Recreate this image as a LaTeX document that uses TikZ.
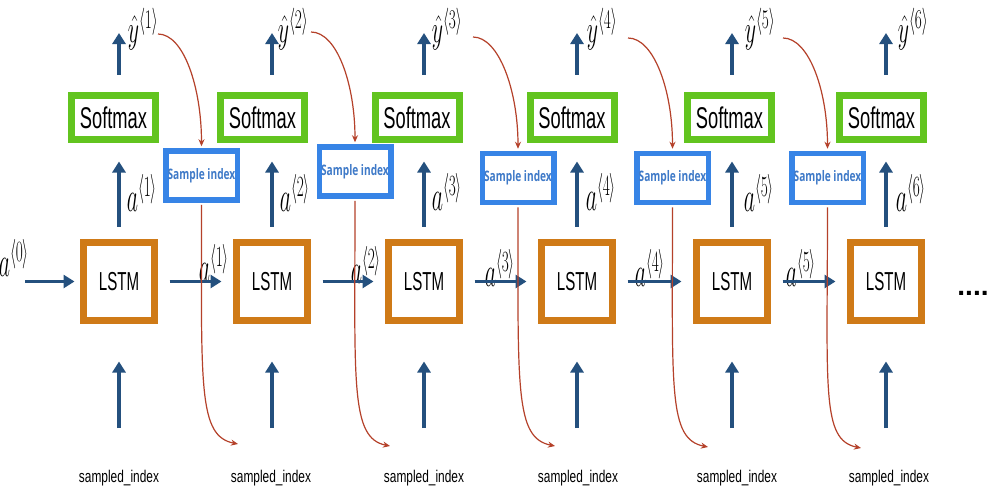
\documentclass[tikz,border=0pt]{standalone}
\usepackage{fix-cm}
\usepackage{fontspec}
\usepackage{graphicx}
\usetikzlibrary{arrows.meta}
\newfontfamily\helv{Liberation Sans}
\newfontfamily\osans{Open Sans}
\definecolor{arrblue}{HTML}{24507E}
\definecolor{softgreen}{HTML}{62C41F}
\definecolor{lstmorange}{HTML}{CF7A17}
\definecolor{sampblue}{HTML}{3784E6}
\definecolor{samptext}{HTML}{3F7AC8}
\definecolor{redline}{HTML}{B5412A}
\newcommand\mylab[2]{\scalebox{0.52}[1]{\fontsize{42}{42}\selectfont$#1^{\langle #2\rangle}$}}
\newcommand\yhlab[1]{\scalebox{0.52}[0.92]{\fontsize{42}{42}\selectfont$\hat{y}^{\langle #1\rangle}$}}
\begin{document}
\begin{tikzpicture}[x=1pt,y=-1pt,
  lstmbox/.style={draw=lstmorange, line width=7pt, minimum width=71pt, minimum height=78pt, inner sep=0pt,
     font=\helv\fontsize{26}{26}\selectfont},
  softbox/.style={draw=softgreen, line width=7pt, minimum width=84pt, minimum height=44pt, inner sep=0pt,
     font=\helv\fontsize{30}{30}\selectfont},
  sampbox/.style={draw=sampblue, line width=5.5pt, minimum width=71.5pt, minimum height=49pt, inner sep=0pt,
     font=\osans\bfseries\fontsize{14.5}{14.5}\selectfont, text=samptext},
  lab/.style={inner sep=0pt},
  inlab/.style={inner sep=0pt, font=\helv\fontsize{17}{17}\selectfont},
  arr/.style={draw=arrblue, line width=3.5pt, -{Triangle[length=11pt,width=13pt]}},
  redc/.style={draw=redline, line width=1.2pt, -{Stealth[length=7pt,width=6pt]}}
]
\useasboundingbox[fill=white] (0,0) rectangle (989,493);

% LSTM boxes
\node[lstmbox] (L1) at (119,281.5) {\scalebox{0.58}[1]{LSTM}};
\node[lstmbox] (L2) at (272,281.5) {\scalebox{0.58}[1]{LSTM}};
\node[lstmbox] (L3) at (424,281.5) {\scalebox{0.58}[1]{LSTM}};
\node[lstmbox] (L4) at (577,281.5) {\scalebox{0.58}[1]{LSTM}};
\node[lstmbox] (L5) at (732,281.5) {\scalebox{0.58}[1]{LSTM}};
\node[lstmbox] (L6) at (886,281.5) {\scalebox{0.58}[1]{LSTM}};

% Softmax boxes
\node[softbox] (S1) at (113.5,117.5) {\scalebox{0.61}[1]{Softmax}};
\node[softbox] (S2) at (262.5,117.5) {\scalebox{0.61}[1]{Softmax}};
\node[softbox] (S3) at (417,117.5) {\scalebox{0.61}[1]{Softmax}};
\node[softbox] (S4) at (572,117.5) {\scalebox{0.61}[1]{Softmax}};
\node[softbox] (S5) at (729.5,117.5) {\scalebox{0.61}[1]{Softmax}};
\node[softbox] (S6) at (881.5,117.5) {\scalebox{0.61}[1]{Softmax}};

% Sample index boxes
\node[sampbox] (I1) at (201.5,175.5) {\scalebox{0.7}[1]{Sample index}};
\node[sampbox] (I2) at (355,171.5) {\scalebox{0.7}[1]{Sample index}};
\node[sampbox] (I3) at (518,178) {\scalebox{0.7}[1]{Sample index}};
\node[sampbox] (I4) at (672.5,178) {\scalebox{0.7}[1]{Sample index}};
\node[sampbox] (I5) at (827.5,178) {\scalebox{0.7}[1]{Sample index}};

% y-hat labels
\node[lab] (Y1) at (143,29) {\yhlab{1}};
\node[lab] (Y2) at (293,29) {\yhlab{2}};
\node[lab] (Y3) at (447,29) {\yhlab{3}};
\node[lab] (Y4) at (602,29) {\yhlab{4}};
\node[lab] (Y5) at (760,29) {\yhlab{5}};
\node[lab] (Y6) at (913,29) {\yhlab{6}};

% vertical a labels
\node[lab] (V1) at (142,193) {\mylab{a}{1}};
\node[lab] (V2) at (295,193) {\mylab{a}{2}};
\node[lab] (V3) at (447,192) {\mylab{a}{3}};
\node[lab] (V4) at (601,192) {\mylab{a}{4}};
\node[lab] (V5) at (759,193) {\mylab{a}{5}};
\node[lab] (V6) at (911,193) {\mylab{a}{6}};

% horizontal a labels
\node[lab] (H0) at (14,258) {\mylab{a}{0}};
\node[lab] (H1) at (214,263) {\mylab{a}{1}};
\node[lab] (H2) at (366,265) {\mylab{a}{2}};
\node[lab] (H3) at (500,268) {\mylab{a}{3}};
\node[lab] (H4) at (650,268) {\mylab{a}{4}};
\node[lab] (H5) at (801,268) {\mylab{a}{5}};

% sampled_index labels
\node[inlab] (N1) at (119,478) {\scalebox{0.7}[1]{sampled\_index}};
\node[inlab] (N2) at (271,478) {\scalebox{0.7}[1]{sampled\_index}};
\node[inlab] (N3) at (424,478) {\scalebox{0.7}[1]{sampled\_index}};
\node[inlab] (N4) at (578,478) {\scalebox{0.7}[1]{sampled\_index}};
\node[inlab] (N5) at (737,478) {\scalebox{0.7}[1]{sampled\_index}};
\node[inlab] (N6) at (889,478) {\scalebox{0.7}[1]{sampled\_index}};

% trailing dots
\node[inner sep=0pt, anchor=base, font=\helv\bfseries\fontsize{28}{28}\selectfont] (dots) at (973,295) {....};

% coordinates
\coordinate (A0) at (25,281.5);
\foreach \i/\x in {1/119,2/272,3/424,4/577,5/732,6/886}{
  \coordinate (T\i) at (\x,33);
  \coordinate (B\i) at (\x,428);
}
\coordinate (R1) at (158,34);
\coordinate (R2) at (311,32);
\coordinate (R3) at (473,37);
\coordinate (R4) at (628,38);
\coordinate (R5) at (783,38);
\coordinate (D1) at (238,444);
\coordinate (D2) at (390,446);
\coordinate (D3) at (555,446);
\coordinate (D4) at (708,447);
\coordinate (D5) at (861,448);

% blue arrows
\foreach \i in {1,...,6}{
  \draw[arr, shorten <=17.5pt] (L\i |- S\i.north) -- (T\i);
  \draw[arr, shorten <=12.5pt, shorten >=18.5pt] (L\i.north) -- (L\i.north |- S\i.south);
  \draw[arr, shorten >=37.5pt] (B\i) -- (L\i.south);
}
\draw[arr, shorten >=5.5pt] (A0) -- (L1.west);
\foreach \i/\j in {1/2,2/3,3/4,4/5,5/6}{
  \draw[arr, shorten <=11.5pt, shorten >=11.5pt] (L\i.east) -- (L\j.west);
}

% red curves
\foreach \i in {1,...,5}{
  \draw[redc, shorten >=2pt] (R\i) .. controls +(26,0) and +(0,-60) .. (I\i.north);
  \draw[redc, shorten <=2pt] (I\i.south) .. controls +(0,185) and +(-40,-8) .. (D\i);
}
\end{tikzpicture}
\end{document}
